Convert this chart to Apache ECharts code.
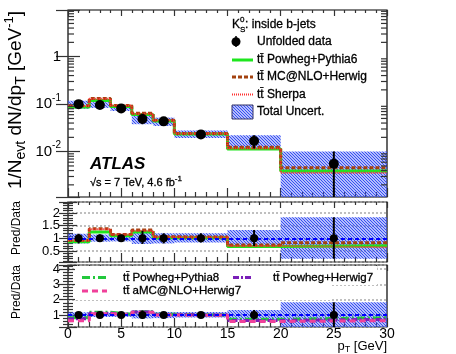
<!DOCTYPE html>
<html>
<head>
<meta charset="utf-8">
<script src="https://cdn.jsdelivr.net/npm/echarts@6/dist/echarts.min.js"></script>
<style>
  html, body { margin: 0; padding: 0; background: #fff; }
  #chart-target { width: 456px; height: 354px; }
</style>
</head>
<body>
<div id="chart-target"></div>
<script>
// pT bins [GeV]
const binEdges = [0, 2, 4, 6, 8, 10, 15, 20, 30];
const binCenters = [1, 3, 5, 7, 9, 12.5, 17.5, 25];
// unfolded data, 1/Nevt dN/dpT [GeV^-1]
const dataVals = [0.100, 0.0958, 0.0815, 0.0485, 0.0434, 0.0231, 0.0167, 0.00553];
// total uncertainty, relative (up / down)
const uncUp = [0.18, 0.15, 0.14, 0.30, 0.20, 0.20, 0.33, 0.83];
const uncDn = [0.20, 0.13, 0.12, 0.22, 0.20, 0.16, 0.30, 0.80];
// Pred/Data, upper ratio panel
const ratioPowhegPythia6 = [0.87, 1.25, 1.10, 1.25, 1.02, 1.02, 0.68, 0.71];
const ratioMCNLOHerwig = [0.93, 1.38, 1.15, 1.33, 1.06, 1.05, 0.74, 0.83];
const ratioSherpa = [0.92, 1.36, 1.15, 1.30, 1.05, 1.04, 0.70, 0.65];
// Pred/Data, lower ratio panel
const ratioPowhegPythia8 = [0.82, 1.18, 1.05, 1.22, 1.05, 1.00, 0.72, 0.82];
const ratioAMCHerwig7 = [0.62, 1.08, 1.02, 1.18, 1.00, 0.98, 0.58, 0.63];
const ratioPowhegHerwig7 = [0.75, 1.12, 1.03, 1.20, 1.02, 1.00, 0.65, 0.72];

const FONT = '"Liberation Sans", Arial, sans-serif';
const C = {
  pythia6: '#1ee61e', mcnlo: '#a3420f', sherpa: '#ff3030',
  pythia8: '#22c83c', amc: '#f0409a', herwig7: '#7a1fb8', data: '#0000ff'
};

// blue hatch used for the total uncertainty band
function makeHatch() {
  const c = document.createElement('canvas');
  c.width = 3; c.height = 3;
  const ctx = c.getContext('2d');
  ctx.fillStyle = 'rgba(130,150,255,0.18)';
  ctx.fillRect(0, 0, 3, 3);
  ctx.strokeStyle = '#3048f2';
  ctx.lineWidth = 1.1;
  ctx.beginPath();
  ctx.moveTo(-1, -1); ctx.lineTo(4, 4);
  ctx.moveTo(-1, 2); ctx.lineTo(1, 4);
  ctx.moveTo(2, -1); ctx.lineTo(4, 1);
  ctx.stroke();
  return { image: c, repeat: 'repeat' };
}
const hatch = makeHatch();

function stepData(vals) {
  const pts = vals.map((v, i) => [binEdges[i], v]);
  pts.push([binEdges[binEdges.length - 1], vals[vals.length - 1]]);
  return pts;
}
const times = (a, b) => a.map((v, i) => v * b[i]);

function stepSeries(xi, yi, vals, color, width, dash) {
  return {
    type: 'line', xAxisIndex: xi, yAxisIndex: yi, step: 'end', symbol: 'none',
    silent: true, z: 3, data: stepData(vals),
    lineStyle: { color: color, width: width, type: dash }
  };
}

function bandSeries(xi, yi, centre) {
  const rows = centre.map((v, i) => [binEdges[i], binEdges[i + 1], v * (1 - uncDn[i]), v * (1 + uncUp[i])]);
  return {
    type: 'custom', xAxisIndex: xi, yAxisIndex: yi, z: 2, silent: true, clip: true,
    data: rows, encode: { x: [0, 1], y: [2, 3] },
    renderItem: function (params, api) {
      const a = api.coord([api.value(0), api.value(3)]);
      const b = api.coord([api.value(1), api.value(2)]);
      return { type: 'rect', shape: { x: a[0], y: a[1], width: b[0] - a[0], height: b[1] - a[1] }, style: { fill: hatch } };
    }
  };
}

function pointSeries(xi, yi, centre, r) {
  const rows = centre.map((v, i) => [binCenters[i], v, v * (1 - uncDn[i]), v * (1 + uncUp[i])]);
  return {
    type: 'custom', xAxisIndex: xi, yAxisIndex: yi, z: 5, silent: true, clip: true,
    data: rows, encode: { x: 0, y: [1, 2, 3] },
    renderItem: function (params, api) {
      const p = api.coord([api.value(0), api.value(1)]);
      const lo = api.coord([api.value(0), api.value(2)]);
      const hi = api.coord([api.value(0), api.value(3)]);
      return {
        type: 'group', children: [
          { type: 'line', shape: { x1: p[0], y1: lo[1], x2: p[0], y2: hi[1] }, style: { stroke: '#000', lineWidth: 2 } },
          { type: 'circle', shape: { cx: p[0], cy: p[1], r: r }, style: { fill: '#000' } }
        ]
      };
    }
  };
}

// log minor ticks on both sides of the top panel
const logMinor = [];
for (let e = -3; e <= 0; e++) for (let m = 2; m <= 9; m++) logMinor.push(m * Math.pow(10, e));

const tickLine = { color: '#333', width: 1.2 };
function xAx(gi, pos, labels) {
  return {
    type: 'value', gridIndex: gi, position: pos, min: 0, max: 30, interval: 5,
    axisLine: { show: false },
    axisTick: { inside: true, length: pos === 'top' ? 6 : 9, lineStyle: tickLine },
    minorTick: { show: true, splitNumber: 5, length: pos === 'top' ? 3 : 5, lineStyle: tickLine },
    axisLabel: { show: labels, color: '#000', fontSize: 14, fontFamily: FONT, margin: 0 },
    splitLine: { show: false }
  };
}
function ratioAx(gi, pos, min, max, step, labels) {
  return {
    type: 'value', gridIndex: gi, position: pos, min: min, max: max, minInterval: step, maxInterval: step,
    axisLine: { show: false },
    axisTick: { inside: true, length: 9, lineStyle: tickLine },
    minorTick: { show: true, splitNumber: 5, length: 5, lineStyle: tickLine },
    axisLabel: { show: labels, showMinLabel: false, showMaxLabel: false, color: '#000', fontSize: 13, fontFamily: FONT, margin: 8 },
    splitLine: { show: labels, lineStyle: { color: '#aaa', width: 1.5, type: [2, 2] } }
  };
}
function logAx(pos, labels) {
  return {
    type: 'log', logBase: 10, gridIndex: 0, position: pos, min: 0.00111, max: 9.6,
    axisLine: { show: false },
    axisTick: { inside: true, length: 12, lineStyle: tickLine },
    axisLabel: {
      show: labels, color: '#000', fontSize: 15, fontFamily: FONT, margin: 7,
      formatter: function (v) {
        const l = Math.log10(v), e = Math.round(l);
        if (Math.abs(l - e) > 1e-6) return '';
        if (e === 0) return '1';
        if (e === -1 || e === -2) return '10{sup|' + e + '}';
        return '';
      },
      rich: { sup: { fontSize: 10, fontFamily: FONT, color: '#000', padding: [0, 0, 12, 0] } }
    },
    splitLine: { show: false }
  };
}

const gridBox = { show: true, left: 68, width: 319, borderColor: '#000', borderWidth: 1.2, backgroundColor: 'transparent' };

// legend / label text, with a thin outline to get the heavier ROOT look
function txt(x, y, text, size, extra) {
  const el = { type: 'text', x: x, y: y, z: 20, style: {
    text: text, font: size + 'px ' + FONT, fill: '#000', stroke: '#000', lineWidth: 0.3, verticalAlign: 'middle'
  } };
  if (extra && extra.style) Object.assign(el.style, extra.style);
  if (extra && extra.rotation) el.rotation = extra.rotation;
  return el;
}
function legLine(x1, x2, y, color, width, dash) {
  return { type: 'line', z: 20, shape: { x1: x1, y1: y, x2: x2, y2: y }, style: { stroke: color, lineWidth: width, lineDash: dash } };
}
const TT = 'tt\u0304';

const myChart = echarts.init(document.getElementById('chart-target'));
myChart.setOption({
  animation: false,
  grid: [
    Object.assign({ top: 10, height: 187 }, gridBox),
    Object.assign({ top: 202, height: 60 }, gridBox),
    Object.assign({ top: 265, height: 62 }, gridBox)
  ],
  xAxis: [xAx(0, 'bottom', false), xAx(0, 'top', false), xAx(1, 'bottom', false), xAx(1, 'top', false), xAx(2, 'bottom', true), xAx(2, 'top', false)],
  yAxis: [logAx('left', true), logAx('right', false),
    ratioAx(1, 'left', 0.07, 2.43, 0.5, true), ratioAx(1, 'right', 0.07, 2.43, 0.5, false),
    ratioAx(2, 'left', 0.22, 4.26, 1, true), ratioAx(2, 'right', 0.22, 4.26, 1, false)],
  series: [
    // top panel
    bandSeries(0, 0, dataVals),
    stepSeries(0, 0, times(dataVals, ratioPowhegPythia6), C.pythia6, 3, 'solid'),
    stepSeries(0, 0, times(dataVals, ratioMCNLOHerwig), C.mcnlo, 3, [4, 2]),
    stepSeries(0, 0, times(dataVals, ratioSherpa), C.sherpa, 2, [1, 1]),
    pointSeries(0, 0, dataVals, 5),
    {
      type: 'custom', xAxisIndex: 0, yAxisIndex: 0, z: 4, silent: true,
      data: logMinor.map(v => [0, v]), encode: { x: 0, y: 1 },
      renderItem: function (params, api) {
        const l = api.coord([0, api.value(1)]);
        const r = api.coord([30, api.value(1)]);
        if (l[1] < 10 || l[1] > 197) return null;
        return { type: 'group', children: [
          { type: 'line', shape: { x1: l[0], y1: l[1], x2: l[0] + 6, y2: l[1] }, style: { stroke: '#333', lineWidth: 1.2 } },
          { type: 'line', shape: { x1: r[0], y1: r[1], x2: r[0] - 6, y2: r[1] }, style: { stroke: '#333', lineWidth: 1.2 } }
        ] };
      }
    },
    // upper ratio panel
    bandSeries(2, 2, dataVals.map(() => 1)),
    stepSeries(2, 2, ratioPowhegPythia6, C.pythia6, 3, 'solid'),
    stepSeries(2, 2, ratioMCNLOHerwig, C.mcnlo, 3, [4, 2]),
    Object.assign(stepSeries(2, 2, ratioSherpa, C.sherpa, 2, [1, 1]), {
      markLine: { silent: true, symbol: 'none', label: { show: false }, lineStyle: { color: C.data, width: 2, type: [4, 3] }, data: [{ yAxis: 1 }] }
    }),
    pointSeries(2, 2, dataVals.map(() => 1), 4),
    // lower ratio panel
    bandSeries(4, 4, dataVals.map(() => 1)),
    stepSeries(4, 4, ratioPowhegPythia8, C.pythia8, 3, [8, 3, 2, 3]),
    stepSeries(4, 4, ratioPowhegHerwig7, C.herwig7, 3, [6, 2, 2, 2]),
    Object.assign(stepSeries(4, 4, ratioAMCHerwig7, C.amc, 3, [6, 4]), {
      markLine: { silent: true, symbol: 'none', label: { show: false }, lineStyle: { color: C.data, width: 2, type: [4, 3] }, data: [{ yAxis: 1 }] }
    }),
    pointSeries(4, 4, dataVals.map(() => 1), 4)
  ],
  graphic: { elements: [
    // axis titles
    txt(16, 100, '1/N{sub|evt} dN/dp{sub|T} [GeV{sup|-1}]', 19, {
      rotation: Math.PI / 2,
      style: { align: 'center', stroke: null, lineWidth: 0,
        rich: { sub: { fontSize: 14, fontFamily: FONT, padding: [11, 0, 0, 0] }, sup: { fontSize: 13, fontFamily: FONT, padding: [0, 0, 13, 0] } } }
    }),
    txt(17, 228, 'Pred/Data', 12, { rotation: Math.PI / 2, style: { align: 'center', stroke: null, lineWidth: 0 } }),
    txt(17, 292, 'Pred/Data', 12, { rotation: Math.PI / 2, style: { align: 'center', stroke: null, lineWidth: 0 } }),
    txt(387, 346, 'p{sub|T} [GeV]', 13, { style: { align: 'right', stroke: null, lineWidth: 0,
      rich: { sub: { fontSize: 9, fontFamily: FONT, padding: [8, 0, 0, 0] } } } }),
    // ATLAS label
    txt(90, 164, 'ATLAS', 17, { style: { font: 'italic bold 17px ' + FONT, stroke: null, lineWidth: 0 } }),
    txt(90, 183, '\u221As = 7 TeV, 4.6 fb{sup|-1}', 11, { style: {
      rich: { sup: { fontSize: 8, fontFamily: FONT, padding: [0, 0, 8, 0] } } } }),
    // top legend
    txt(232, 25, 'K', 12),
    txt(240, 20, '0', 8),
    txt(240, 30, 'S', 8),
    txt(245, 25, ': inside b-jets', 12),
    { type: 'line', z: 20, shape: { x1: 236, y1: 36, x2: 236, y2: 47 }, style: { stroke: '#000', lineWidth: 1.5 } },
    { type: 'circle', z: 20, shape: { cx: 236, cy: 41.7, r: 4.5 }, style: { fill: '#000' } },
    txt(257, 42, 'Unfolded data', 12),
    legLine(232, 253, 60, C.pythia6, 3, null),
    txt(257, 60, TT + ' Powheg+Pythia6', 12),
    legLine(232, 253, 77, C.mcnlo, 3, [4, 2]),
    txt(257, 77, TT + ' MC@NLO+Herwig', 12),
    legLine(232, 253, 94.5, C.sherpa, 2, [1, 1]),
    txt(257, 94.5, TT + ' Sherpa', 12),
    { type: 'rect', z: 20, shape: { x: 232, y: 105, width: 21, height: 14 }, style: { fill: hatch, stroke: '#333366', lineWidth: 1 } },
    txt(257, 112, 'Total Uncert.', 12),
    // bottom legend (white boxes hide the grid lines)
    { type: 'rect', z: 1, shape: { x: 75, y: 266, width: 255, height: 34 }, style: { fill: '#fff' } },
    { type: 'rect', z: 1, shape: { x: 225, y: 266, width: 152, height: 19 }, style: { fill: '#fff' } },
    legLine(82, 107, 277.5, C.pythia8, 3, [8, 3, 2, 3]),
    txt(123, 277.5, TT + ' Powheg+Pythia8', 11.5),
    legLine(82, 107, 291, C.amc, 3, [6, 4]),
    txt(123, 291, TT + ' aMC@NLO+Herwig7', 11.5),
    legLine(233, 253, 277.5, C.herwig7, 3, [6, 2, 2, 2]),
    txt(273, 277.5, TT + ' Powheg+Herwig7', 11.5)
  ] }
});
</script>
</body>
</html>
